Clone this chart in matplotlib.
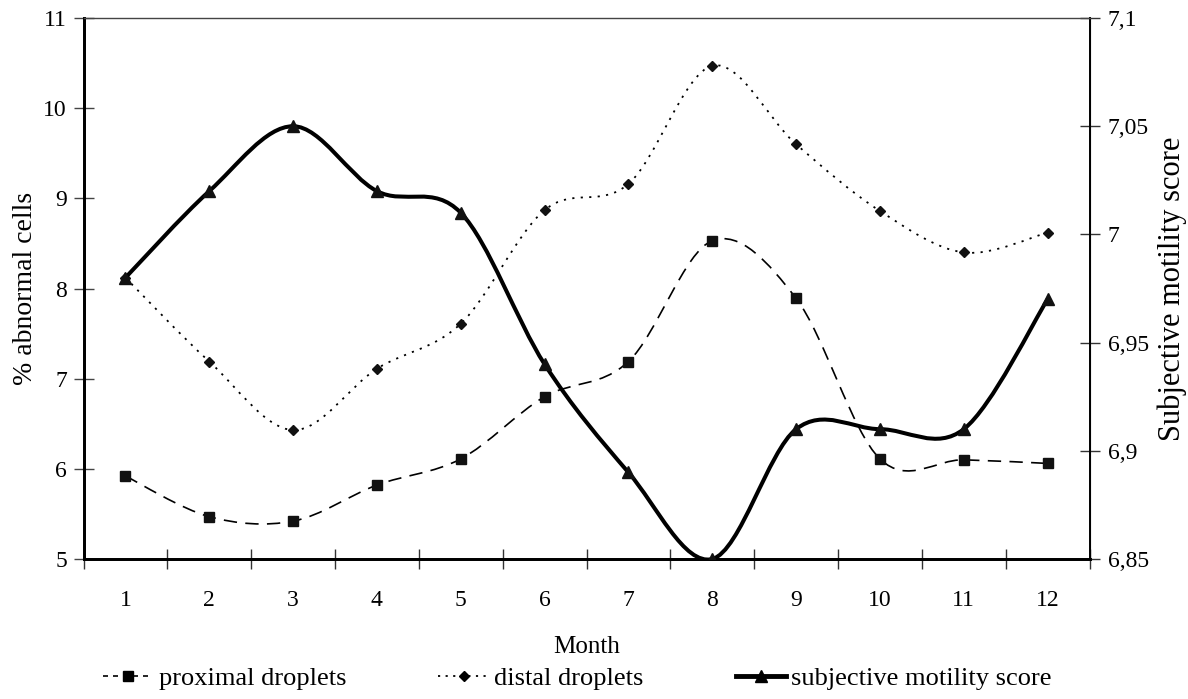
import matplotlib
matplotlib.use("Agg")
import matplotlib.pyplot as plt
from matplotlib.path import Path
from matplotlib.patches import PathPatch
from matplotlib.lines import Line2D
from matplotlib.ticker import FuncFormatter

months = [1, 2, 3, 4, 5, 6, 7, 8, 9, 10, 11, 12]
proximal = [5.92, 5.47, 5.42, 5.82, 6.11, 6.80, 7.19, 8.53, 7.89, 6.11, 6.10, 6.06]
distal = [8.12, 7.19, 6.43, 7.11, 7.61, 8.87, 9.16, 10.47, 9.60, 8.86, 8.40, 8.62]
motility = [6.98, 7.02, 7.05, 7.02, 7.01, 6.94, 6.89, 6.85, 6.91, 6.91, 6.91, 6.97]

plt.rcParams['font.family'] = ['Liberation Serif', 'DejaVu Serif']
plt.rcParams['font.size'] = 17


def smooth_path(xs, ys):
    # excel-like smoothed line: catmull-rom turned into cubic bezier pieces
    verts = [(xs[0], ys[0])]
    codes = [Path.MOVETO]
    n = len(xs)
    for i in range(n - 1):
        x0, y0 = (xs[i - 1], ys[i - 1]) if i > 0 else (xs[i], ys[i])
        x1, y1 = xs[i], ys[i]
        x2, y2 = xs[i + 1], ys[i + 1]
        x3, y3 = (xs[i + 2], ys[i + 2]) if i + 2 < n else (x2, y2)
        c1 = (x1 + (x2 - x0) / 6, y1 + (y2 - y0) / 6)
        c2 = (x2 - (x3 - x1) / 6, y2 - (y3 - y1) / 6)
        verts += [c1, c2, (x2, y2)]
        codes += [Path.CURVE4] * 3
    return Path(verts, codes)


fig = plt.figure(figsize=(11.88, 6.99), dpi=100)
ax = fig.add_axes([0.0703, 0.2003, 0.8468, 0.7739])
ax2 = ax.twinx()

ax.add_patch(PathPatch(smooth_path(months, proximal), fill=False, zorder=2,
                       edgecolor='black', lw=1.2, linestyle=(0, (8, 5))))
ax.add_patch(PathPatch(smooth_path(months, distal), fill=False, zorder=2,
                       edgecolor='black', lw=1.3, linestyle=(0, (1.2, 3.5))))
ax.plot(months, proximal, 's', color='#111111', ms=7, zorder=3)
ax.plot(months, distal, 'D', color='#111111', ms=5, zorder=3)

ax2.add_patch(PathPatch(smooth_path(months, motility), fill=False, zorder=2,
                        edgecolor='black', lw=2.9, capstyle='round', joinstyle='round'))
ax2.plot(months, motility, '^', color='#111111', ms=8, zorder=3)

ax.set_xlim(0.5, 12.5)
ax.set_ylim(5, 11)
ax2.set_ylim(6.85, 7.1)
ax.set_yticks([5, 6, 7, 8, 9, 10, 11])
ax2.set_yticks([6.85, 6.9, 6.95, 7.0, 7.05, 7.1])
ax2.yaxis.set_major_formatter(FuncFormatter(lambda v, p: ('%g' % round(v, 2)).replace('.', ',')))
ax.set_xticks(months)
ax.set_xticks([m + 0.5 for m in range(0, 13)], minor=True)
ax.tick_params(axis='x', which='major', length=0, pad=22)
ax.tick_params(axis='x', which='minor', direction='inout', length=14, width=1, color='#333333')
ax.tick_params(axis='y', direction='inout', length=14, width=1, color='#444444', pad=5)
ax2.tick_params(axis='y', direction='inout', length=14, width=1, color='#333333', pad=6)

for s in ['left', 'bottom']:
    ax.spines[s].set_linewidth(2)
    ax2.spines[s].set_linewidth(2)
ax2.spines['right'].set_linewidth(1.4)
ax2.spines['top'].set_linewidth(1.0)
ax2.spines['top'].set_color('#444444')
ax.spines['top'].set_visible(False)

ax.set_xlabel('Month', labelpad=18, fontsize=18)
ax.set_ylabel('% abnormal cells', labelpad=4, fontsize=20)
ax2.set_ylabel('Subjective motility score', labelpad=6, fontsize=22)

handles = [
    Line2D([], [], color='black', lw=1.2, linestyle=(0, (3, 3)), marker='s', ms=7),
    Line2D([], [], color='black', lw=1.3, linestyle=(0, (1.2, 3)), marker='D', ms=5),
    Line2D([], [], color='black', lw=3.5, marker='^', ms=8),
]
fig.legend(handles, ['proximal droplets', 'distal droplets', 'subjective motility score'],
           loc='center', bbox_to_anchor=(0.486, 0.03), ncol=3, frameon=False, fontsize=19,
           handlelength=1.9, handletextpad=0.2, columnspacing=3.5)

fig.savefig('out.png', dpi=100)
